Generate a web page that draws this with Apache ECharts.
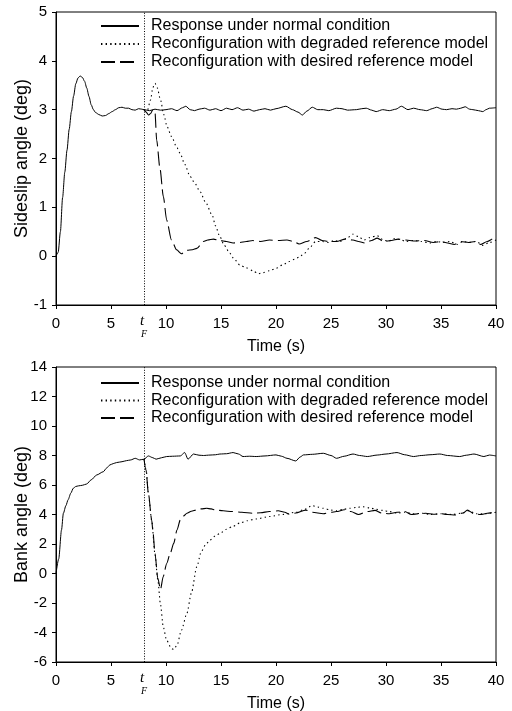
<!DOCTYPE html>
<html>
<head>
<meta charset="utf-8">
<script src="https://cdn.jsdelivr.net/npm/echarts@6/dist/echarts.min.js"></script>
<style>html,body{margin:0;padding:0;background:#fff}#c{width:512px;height:711px}</style>
</head>
<body>
<div id="c"></div>
<script>
// ---- data ----
const seriesNames = ['Response under normal condition','Reconfiguration with degraded reference model','Reconfiguration with desired reference model'];
const xTicks = [0,5,10,15,20,25,30,35,40];
const faultTime = 8;

// Sideslip angle (top)
const T1n = [0,0.2,0.4,0.6,0.8,1.0,1.2,1.4,1.6,1.8,2.0,2.2,2.4,2.6,2.8,3.0,3.2,3.4,3.6,3.9,4.2,4.5,4.8,5.1,5.4,5.7,6.0,6.3,6.6,6.9,7.2,7.5,7.8,8.0,8.5,9.0,9.5,10.0,10.5,11.0,11.5,11.8,12.2,12.6,13.0,13.5,14.0,14.5,15.0,15.5,16.0,16.5,17.0,17.5,18.0,18.5,19.0,19.5,20.0,20.9,21.5,22.0,22.4,22.8,23.3,23.8,24.3,24.8,25.5,26.0,26.5,27.3,27.8,28.2,28.7,29.1,29.7,30.3,30.9,31.4,32.0,32.5,33.1,33.7,34.2,34.6,35.1,35.5,36.0,36.4,36.8,37.2,37.6,37.9,38.4,38.8,39.1,39.4,40.0];
const V1n = [0,0.08,0.5,1.2,1.72,2.17,2.6,2.96,3.28,3.53,3.65,3.69,3.66,3.58,3.44,3.27,3.1,3.0,2.94,2.9,2.87,2.88,2.92,2.96,3.0,3.04,3.05,3.03,3.03,3.0,2.99,3.02,3.01,3.0,2.98,3.01,2.99,3.0,3.02,2.98,3.04,3.07,3.0,2.98,3.01,3.03,2.99,3.02,2.98,3.03,3.0,3.04,2.99,3.01,2.97,3.0,3.02,2.99,3.02,3.07,3.0,2.95,2.89,2.97,3.05,3.0,3.0,2.98,3.03,3.02,2.99,3.0,3.02,3.03,2.99,2.96,3.0,2.98,3.01,3.07,3.0,3.03,3.0,2.98,3.02,3.05,3.01,3.0,3.02,3.01,3.03,3.06,3.01,3.0,2.98,2.96,3.0,3.03,3.04];
const T1g = [8.0,8.3,8.6,8.8,9.0,9.2,9.5,9.8,10.1,10.5,11.0,11.3,11.7,12.2,12.6,13.1,13.6,14.2,14.5,14.9,15.3,15.8,16.2,16.7,17.3,17.9,18.4,18.8,19.4,20.0,20.6,21.2,21.7,22.1,22.6,23.0,23.6,24.2,24.8,25.3,25.8,26.4,27.0,27.5,28.0,28.5,29.2,29.7,30.2,30.7,31.3,31.8,32.5,33.2,34.0,34.6,35.2,35.8,36.5,37.0,37.6,38.2,38.8,39.4,40.0];
const V1g = [3.0,2.98,3.2,3.45,3.54,3.45,3.2,2.9,2.65,2.45,2.22,2.1,1.88,1.63,1.5,1.32,1.1,0.84,0.62,0.4,0.22,0.06,-0.06,-0.18,-0.24,-0.3,-0.36,-0.34,-0.3,-0.25,-0.18,-0.11,-0.06,-0.02,0.06,0.16,0.30,0.3,0.28,0.32,0.3,0.36,0.45,0.40,0.33,0.38,0.42,0.34,0.30,0.36,0.34,0.3,0.32,0.3,0.27,0.3,0.28,0.3,0.24,0.3,0.28,0.3,0.22,0.28,0.33];
const T1d = [8.0,8.2,8.4,8.6,8.8,9.0,9.15,9.45,9.76,10.06,10.5,10.97,11.4,11.9,12.4,12.8,13.4,13.8,14.3,14.9,15.5,16.1,16.7,17.3,17.9,18.6,19.4,20.2,21.0,21.6,22.1,22.8,23.6,24.2,24.8,25.5,26.3,27.0,27.5,28.1,28.7,29.2,29.8,30.5,31.1,31.8,32.5,33.5,34.3,35.0,35.6,36.2,36.8,37.5,38.1,38.6,39.2,39.8,40.0];
const V1d = [3.0,2.95,2.89,2.92,3.0,2.95,2.38,1.8,1.22,0.74,0.33,0.13,0.05,0.12,0.13,0.16,0.3,0.33,0.35,0.32,0.3,0.27,0.28,0.3,0.32,0.3,0.33,0.32,0.33,0.3,0.25,0.3,0.38,0.32,0.3,0.3,0.35,0.33,0.3,0.27,0.32,0.37,0.3,0.32,0.35,0.33,0.31,0.32,0.28,0.3,0.27,0.24,0.3,0.28,0.3,0.24,0.3,0.36,0.35];

// Bank angle (bottom)
const T2n = [0,0.25,0.5,0.67,0.9,1.1,1.35,1.57,1.8,2.03,2.4,2.79,3.2,3.7,4.3,4.6,4.9,5.2,5.5,6.0,6.4,6.8,7.2,7.6,8.0,8.4,8.8,9.1,9.6,10.06,10.6,11.3,11.7,12.0,12.5,13.0,13.4,14.0,14.5,14.9,15.5,16.1,16.6,17.0,17.6,18.2,19.0,20.0,20.5,21.0,21.8,22.2,22.5,23.3,24.3,25.0,25.5,26.2,27.0,27.6,28.3,29.2,30.0,31.0,31.7,32.5,33.2,34.0,34.9,35.6,36.7,37.3,38.0,38.9,39.4,40.0];
const V2n = [0,1.0,2.95,4.08,4.6,5.0,5.45,5.78,5.9,5.94,5.98,6.07,6.35,6.68,6.9,7.15,7.36,7.45,7.52,7.58,7.65,7.7,7.81,7.7,7.75,7.97,7.85,7.75,7.85,7.93,7.95,7.97,8.2,7.75,8.1,8.02,8.0,8.03,8.05,8.1,8.12,8.2,8.1,7.93,7.95,7.93,7.97,8.04,7.95,7.81,7.63,7.9,8.04,8.08,8.15,8.0,7.81,7.95,8.1,8.0,7.93,8.03,8.1,8.2,8.05,7.93,8.0,8.05,8.1,8.0,7.93,8.02,8.1,7.93,8.03,7.97];
const T2g = [8.0,8.2,8.4,8.7,9.0,9.25,9.5,9.75,10.06,10.5,10.7,11.0,11.4,11.9,12.3,12.8,13.2,13.6,14.0,14.5,14.9,15.5,16.1,16.7,17.4,18.2,19.4,20.6,21.8,22.6,23.3,23.8,24.3,25.0,25.5,26.1,26.7,27.3,27.9,28.5,29.1,29.7,30.3,31.0,31.7,32.5,33.3,34.0,35.0,36.0,37.0,37.5,38.2,39.0,40.0];
const V2g = [7.75,7.0,5.4,3.6,1.3,-0.4,-2.1,-3.62,-4.53,-5.09,-5.15,-4.87,-3.85,-2.71,-1.35,0.45,1.47,1.95,2.27,2.55,2.72,3.0,3.2,3.42,3.58,3.7,3.86,4.0,4.15,4.35,4.6,4.5,4.42,4.3,4.25,4.35,4.42,4.48,4.53,4.45,4.35,4.28,4.2,4.1,4.15,4.05,4.08,4.0,4.05,4.0,4.1,4.25,4.05,4.05,4.15];
const T2d = [8.0,8.18,8.4,8.7,8.8,9.0,9.25,9.5,9.75,10.06,10.4,10.7,11.0,11.3,11.6,11.9,12.3,12.8,13.2,13.7,14.1,14.5,15.2,16.0,16.9,17.9,18.6,19.4,20.2,20.8,21.2,21.8,22.7,23.3,24.3,25.0,25.5,26.2,26.8,27.5,28.3,29.0,29.6,30.3,31.0,31.7,32.3,33.0,33.6,34.3,35.0,35.6,36.3,37.0,37.4,38.0,38.6,39.2,40.0];
const V2d = [7.75,7.02,5.44,3.63,2.95,1.36,-0.3,-1.08,-0.2,0.68,1.4,2.04,2.95,3.63,3.9,4.08,4.22,4.31,4.38,4.42,4.38,4.31,4.25,4.2,4.15,4.08,4.12,4.2,4.25,4.15,4.02,4.1,4.3,4.15,4.05,4.15,4.2,4.32,4.2,4.0,4.2,4.28,4.1,4.05,4.15,4.2,4.0,4.05,4.08,4.02,4.05,4.0,3.97,4.1,4.3,4.05,4.0,4.08,4.2];

// ---- chart ----
const FONT = '"Liberation Sans", Arial, Helvetica, sans-serif';
const zip = (t, v) => t.map((x, i) => [x, v[i]]);
const lineTypes = ['solid', [1.4, 3.2], [14, 5]];
const chart = echarts.init(document.getElementById('c'), null, {renderer: 'canvas'});

function xAxis(g) {
  return {
    type: 'value', gridIndex: g, min: 0, max: 40, interval: 5,
    name: 'Time (s)', nameLocation: 'middle', nameGap: 34, nameMoveOverlap: false,
    nameTextStyle: {fontFamily: FONT, fontSize: 16, color: '#000'},
    axisLine: {show: true, onZero: false, lineStyle: {color: '#000', width: 1}},
    axisTick: {show: true, inside: false, length: 4, lineStyle: {color: '#000'}},
    axisLabel: {fontFamily: FONT, fontSize: 15, color: '#000', margin: 11,
      formatter: v => xTicks.includes(v) ? String(v) : ''},
    splitLine: {show: false}
  };
}
function yAxis(g, name, min, max, interval) {
  return {
    type: 'value', gridIndex: g, min, max, interval,
    name, nameLocation: 'middle', nameGap: 25, nameMoveOverlap: false,
    nameTextStyle: {fontFamily: FONT, fontSize: 18, color: '#000'},
    axisLine: {show: true, onZero: false, lineStyle: {color: '#000', width: 1}},
    axisTick: {show: true, inside: false, length: 4, lineStyle: {color: '#000'}},
    axisLabel: {fontFamily: FONT, fontSize: 15, color: '#000', margin: 9},
    splitLine: {show: false}
  };
}
function faultLine() {
  return {
    silent: true, symbol: ['none', 'none'], animation: false,
    lineStyle: {color: '#000', type: [1, 1.6], width: 1},
    label: {
      show: true, position: 'start', distance: 10, formatter: '{t|t}\n{f|F}',
      rich: {
        t: {fontFamily: '"Liberation Serif", "Times New Roman", serif', fontStyle: 'italic', fontSize: 15, color: '#000', lineHeight: 13, padding: [0, 4, 0, 0]},
        f: {fontFamily: '"Liberation Serif", "Times New Roman", serif', fontStyle: 'italic', fontSize: 10, color: '#000', lineHeight: 12}
      }
    },
    data: [{xAxis: faultTime}]
  };
}
function mkSeries(idx, g, t, v, withFault) {
  const s = {
    name: seriesNames[idx], type: 'line', xAxisIndex: g, yAxisIndex: g,
    data: zip(t, v), symbol: 'none', showSymbol: false, smooth: 0.25, smoothMonotone: 'x',
    lineStyle: {color: '#000', width: idx === 0 ? 1 : 1.1, type: lineTypes[idx]},
    itemStyle: {color: '#000'}, animation: false, z: 3 - idx
  };
  if (withFault) s.markLine = faultLine();
  return s;
}
function legend(top, gap) {
  return {
    data: seriesNames, orient: 'vertical', left: 100, top, itemWidth: 38, itemHeight: 14, itemGap: gap,
    selectedMode: false, padding: 0,
    itemStyle: {color: 'rgba(0,0,0,0)', borderColor: 'rgba(0,0,0,0)', borderWidth: 0, opacity: 0},
    textStyle: {fontFamily: FONT, fontSize: 16, color: '#000', lineHeight: 14, padding: [0, 0, 0, 7]}
  };
}

const gridBase = {left: 56, width: 440, show: true, borderColor: '#000', borderWidth: 1, backgroundColor: 'transparent', containLabel: false, outerBoundsMode: 'none'};
chart.setOption({
  backgroundColor: '#fff',
  animation: false,
  legend: [legend(18, 2), legend(375, 1.5)],
  grid: [
    Object.assign({}, gridBase, {top: 12, height: 293}),
    Object.assign({}, gridBase, {top: 367, height: 295})
  ],
  xAxis: [xAxis(0), xAxis(1)],
  yAxis: [yAxis(0, 'Sideslip angle (deg)', -1, 5, 1), yAxis(1, 'Bank angle (deg)', -6, 14, 2)],
  series: [
    mkSeries(0, 0, T1n, V1n, true),
    mkSeries(1, 0, T1g, V1g, false),
    mkSeries(2, 0, T1d, V1d, false),
    mkSeries(0, 1, T2n, V2n, true),
    mkSeries(1, 1, T2g, V2g, false),
    mkSeries(2, 1, T2d, V2d, false)
  ]
});
</script>
</body>
</html>
